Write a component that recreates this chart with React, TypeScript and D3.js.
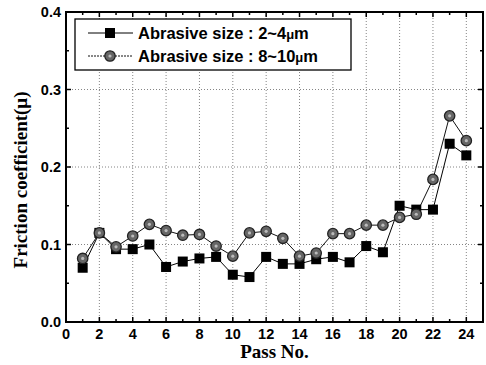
import * as d3 from "d3";

const passes = d3.range(1, 25);
const size2to4 = [0.070, 0.115, 0.094, 0.094, 0.100, 0.071, 0.078, 0.082, 0.084, 0.061, 0.058, 0.084,
  0.075, 0.075, 0.081, 0.084, 0.077, 0.098, 0.090, 0.150, 0.145, 0.145, 0.230, 0.215];
const size8to10 = [0.082, 0.115, 0.097, 0.111, 0.126, 0.118, 0.112, 0.113, 0.098, 0.085, 0.115, 0.117,
  0.108, 0.085, 0.089, 0.114, 0.114, 0.125, 0.125, 0.135, 0.139, 0.184, 0.266, 0.234];
const xTicks = d3.range(0, 25, 2);
const yTicks = [0, 0.1, 0.2, 0.3, 0.4];

const W = 486, H = 365;
const m = { left: 66, right: 3, top: 12, bottom: 43 };

export default function App() {
  const x = d3.scaleLinear().domain([0, 25]).range([m.left, W - m.right]);
  const y = d3.scaleLinear().domain([0, 0.4]).range([H - m.bottom, m.top]);
  const line = d3.line<number>().x((_, i) => x(passes[i])).y(d => y(d));
  const sans = "Arial, 'Liberation Sans', sans-serif";
  const serif = "'Times New Roman', 'Liberation Serif', serif";
  const x0 = x(0), x1 = x(25), y0 = y(0), y1 = y(0.4);

  return (
    <svg width={W} height={H} style={{ position: "absolute", left: 0, top: 0 }}>
      <rect width={W} height={H} fill="#fff" />
      {/* grid */}
      {xTicks.filter(t => t > 0).map(t => (
        <line key={"gx" + t} x1={x(t)} x2={x(t)} y1={y0} y2={y1} stroke="#666" strokeWidth={0.8} strokeDasharray="1,2" />
      ))}
      {yTicks.filter(t => t > 0 && t < 0.4).map(t => (
        <line key={"gy" + t} x1={x0} x2={x1} y1={y(t)} y2={y(t)} stroke="#666" strokeWidth={0.8} strokeDasharray="1,2" />
      ))}
      {/* ticks */}
      {d3.range(1, 25).map(t => {
        const len = t % 2 === 0 ? 5 : 3;
        return (
          <g key={"tx" + t} stroke="#000" strokeWidth={1.5}>
            <line x1={x(t)} x2={x(t)} y1={y0} y2={y0 - len} />
            <line x1={x(t)} x2={x(t)} y1={y1} y2={y1 + len} />
          </g>
        );
      })}
      {d3.range(1, 8).map(i => {
        const t = i * 0.05;
        const len = i % 2 === 0 ? 5 : 3;
        return (
          <g key={"ty" + i} stroke="#000" strokeWidth={1.5}>
            <line x1={x0} x2={x0 + len} y1={y(t)} y2={y(t)} />
            <line x1={x1} x2={x1 - len} y1={y(t)} y2={y(t)} />
          </g>
        );
      })}
      {/* series */}
      <path d={line(size8to10) || ""} fill="none" stroke="#111" strokeWidth={1} />
      <path d={line(size2to4) || ""} fill="none" stroke="#000" strokeWidth={1} />
      {size2to4.map((v, i) => (
        <rect key={"s" + i} x={x(passes[i]) - 5} y={y(v) - 5} width={10} height={10} fill="#000" />
      ))}
      {size8to10.map((v, i) => (
        <g key={"c" + i}>
          <circle cx={x(passes[i])} cy={y(v)} r={5.2} fill="#666" stroke="#222" strokeWidth={1.3} />
          <circle cx={x(passes[i])} cy={y(v)} r={1.6} fill="#bbb" />
        </g>
      ))}
      {/* frame */}
      <rect x={x0} y={y1} width={x1 - x0} height={y0 - y1} fill="none" stroke="#000" strokeWidth={2} />
      {/* tick labels */}
      {xTicks.map(t => (
        <text key={"lx" + t} x={x(t)} y={y0 + 17} textAnchor="middle" fontFamily={sans} fontWeight="bold" fontSize={14.5}>{t}</text>
      ))}
      {yTicks.map(t => (
        <text key={"ly" + t} x={x0 - 5} y={y(t) + 5} textAnchor="end" fontFamily={sans} fontWeight="bold" fontSize={14.5}>{t.toFixed(1)}</text>
      ))}
      <text x={(x0 + x1) / 2} y={358} textAnchor="middle" fontFamily={serif} fontWeight="bold" fontSize={19}>Pass No.</text>
      <text transform={`translate(27,${(y0 + y1) / 2 + 13}) rotate(-90)`} textAnchor="middle" fontFamily={serif} fontWeight="bold" fontSize={19}>Friction coefficient(μ)</text>
      {/* legend */}
      <rect x={75} y={19} width={276} height={51} fill="#fff" stroke="#000" strokeWidth={1.3} />
      <line x1={88} x2={133} y1={33} y2={33} stroke="#000" strokeWidth={1} />
      <rect x={105} y={28} width={10} height={10} fill="#000" />
      <line x1={88} x2={133} y1={56} y2={56} stroke="#111" strokeWidth={1} strokeDasharray="2,1" />
      <circle cx={110} cy={56} r={5.2} fill="#666" stroke="#222" strokeWidth={1.3} />
      <circle cx={110} cy={56} r={1.6} fill="#bbb" />
      <text x={138} y={39} fontFamily={sans} fontWeight="bold" fontSize={16.5}>Abrasive size : 2~4<tspan fontSize={13}>μ</tspan>m</text>
      <text x={138} y={62} fontFamily={sans} fontWeight="bold" fontSize={16.5}>Abrasive size : 8~10<tspan fontSize={13}>μ</tspan>m</text>
    </svg>
  );
}
